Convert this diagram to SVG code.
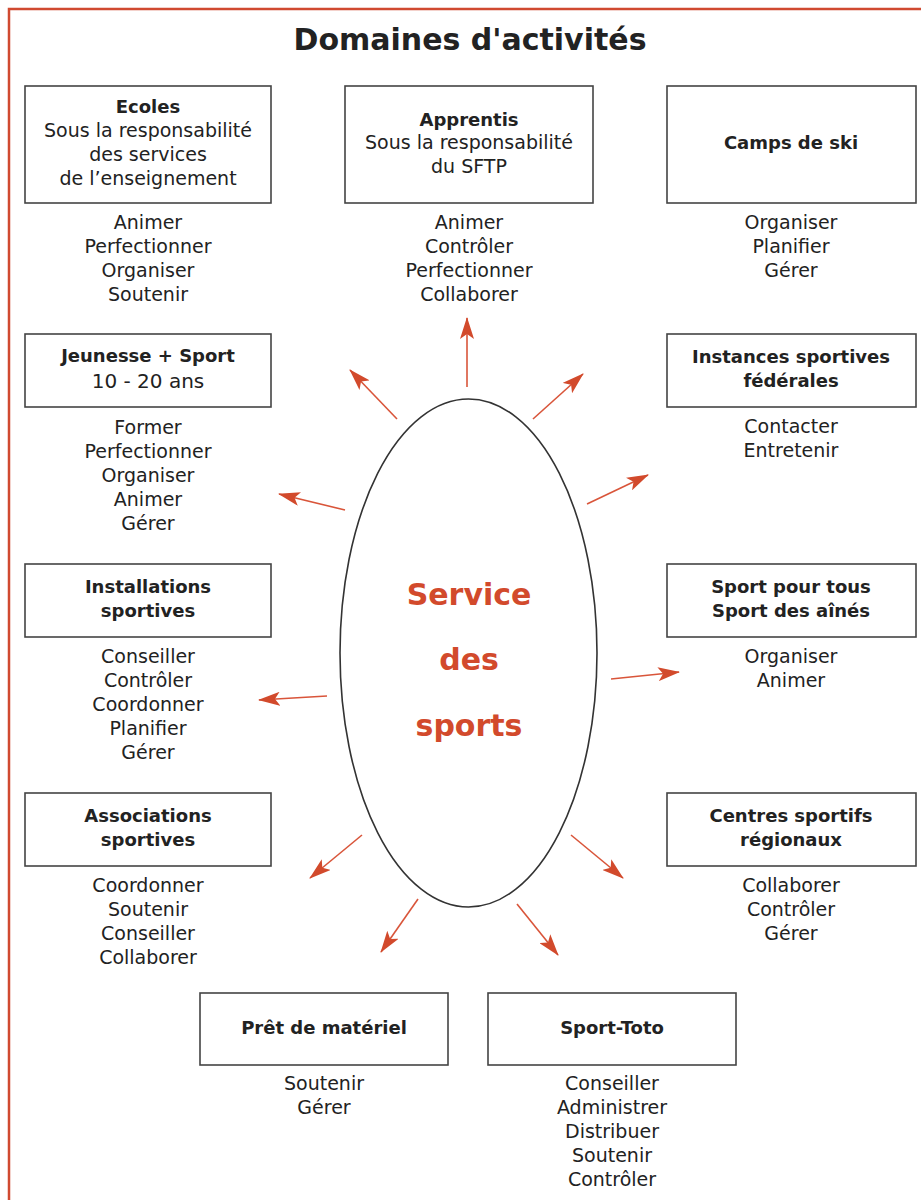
<svg xmlns="http://www.w3.org/2000/svg" width="921" height="1200" viewBox="0 0 921 1200">
<defs>
<style>
.box{fill:#fff;stroke:#444;stroke-width:1.6}
.t{font-family:"DejaVu Sans","Liberation Sans",Arial,sans-serif;text-anchor:middle;fill:#222}
.b{font-weight:bold;font-size:18px}
.r{font-size:19px}
.v{font-size:19px}
.red{fill:#d24a2c;font-weight:bold;font-size:30px}
.arr{stroke:#d9553a;stroke-width:1.6;fill:none;marker-end:url(#ah)}
</style>
<marker id="ah" viewBox="0 0 22 14" refX="21" refY="7" markerWidth="22" markerHeight="14" markerUnits="userSpaceOnUse" orient="auto">
<path d="M0,0 L22,7 L0,14 L5,7 z" fill="#d24a2c"/>
</marker>
</defs>
<rect width="921" height="1200" fill="#fff"/>
<path d="M9,1200 L9,9 L921,9" fill="none" stroke="#d04a30" stroke-width="2.5"/>
<text class="t" x="470" y="50" style="font-weight:bold;font-size:30px">Domaines d'activités</text>

<g id="centre">
<ellipse cx="468.5" cy="653" rx="128.5" ry="254" fill="#fff" stroke="#333" stroke-width="1.6"/>
<text class="t red" x="469" y="605">Service</text>
<text class="t red" x="469" y="670">des</text>
<text class="t red" x="469" y="736">sports</text>
</g>

<g id="ecoles">
<rect class="box" x="25" y="86" width="246" height="117"/>
<text class="t b" x="148" y="113">Ecoles</text>
<text class="t r" x="148" y="137">Sous la responsabilité</text>
<text class="t r" x="148" y="161">des services</text>
<text class="t r" x="148" y="185">de l’enseignement</text>
<text class="t v" x="148" y="229">Animer</text>
<text class="t v" x="148" y="253">Perfectionner</text>
<text class="t v" x="148" y="277">Organiser</text>
<text class="t v" x="148" y="301">Soutenir</text>
</g>

<g id="apprentis">
<rect class="box" x="345" y="86" width="248" height="117"/>
<text class="t b" x="469" y="126">Apprentis</text>
<text class="t r" x="469" y="149">Sous la responsabilité</text>
<text class="t r" x="469" y="173">du SFTP</text>
<text class="t v" x="469" y="229">Animer</text>
<text class="t v" x="469" y="253">Contrôler</text>
<text class="t v" x="469" y="277">Perfectionner</text>
<text class="t v" x="469" y="301">Collaborer</text>
</g>

<g id="camps">
<rect class="box" x="667" y="86" width="249" height="117"/>
<text class="t b" x="791" y="149">Camps de ski</text>
<text class="t v" x="791" y="229">Organiser</text>
<text class="t v" x="791" y="253">Planifier</text>
<text class="t v" x="791" y="277">Gérer</text>
</g>

<g id="jeunesse">
<rect class="box" x="25" y="334" width="246" height="73"/>
<text class="t b" x="148" y="362">Jeunesse + Sport</text>
<text class="t r" x="148" y="388" style="font-size:20px">10 - 20 ans</text>
<text class="t v" x="148" y="434">Former</text>
<text class="t v" x="148" y="458">Perfectionner</text>
<text class="t v" x="148" y="482">Organiser</text>
<text class="t v" x="148" y="506">Animer</text>
<text class="t v" x="148" y="530">Gérer</text>
</g>

<g id="instances">
<rect class="box" x="667" y="334" width="249" height="73"/>
<text class="t b" x="791" y="363">Instances sportives</text>
<text class="t b" x="791" y="387">fédérales</text>
<text class="t v" x="791" y="433">Contacter</text>
<text class="t v" x="791" y="457">Entretenir</text>
</g>

<g id="installations">
<rect class="box" x="25" y="564" width="246" height="73"/>
<text class="t b" x="148" y="593">Installations</text>
<text class="t b" x="148" y="617">sportives</text>
<text class="t v" x="148" y="663">Conseiller</text>
<text class="t v" x="148" y="687">Contrôler</text>
<text class="t v" x="148" y="711">Coordonner</text>
<text class="t v" x="148" y="735">Planifier</text>
<text class="t v" x="148" y="759">Gérer</text>
</g>

<g id="sportpourtous">
<rect class="box" x="667" y="564" width="249" height="73"/>
<text class="t b" x="791" y="593">Sport pour tous</text>
<text class="t b" x="791" y="617">Sport des aînés</text>
<text class="t v" x="791" y="663">Organiser</text>
<text class="t v" x="791" y="687">Animer</text>
</g>

<g id="associations">
<rect class="box" x="25" y="793" width="246" height="73"/>
<text class="t b" x="148" y="822">Associations</text>
<text class="t b" x="148" y="846">sportives</text>
<text class="t v" x="148" y="892">Coordonner</text>
<text class="t v" x="148" y="916">Soutenir</text>
<text class="t v" x="148" y="940">Conseiller</text>
<text class="t v" x="148" y="964">Collaborer</text>
</g>

<g id="centres">
<rect class="box" x="667" y="793" width="249" height="73"/>
<text class="t b" x="791" y="822">Centres sportifs</text>
<text class="t b" x="791" y="846">régionaux</text>
<text class="t v" x="791" y="892">Collaborer</text>
<text class="t v" x="791" y="916">Contrôler</text>
<text class="t v" x="791" y="940">Gérer</text>
</g>

<g id="pret">
<rect class="box" x="200" y="993" width="248" height="72"/>
<text class="t b" x="324" y="1034">Prêt de matériel</text>
<text class="t v" x="324" y="1090">Soutenir</text>
<text class="t v" x="324" y="1114">Gérer</text>
</g>

<g id="sporttoto">
<rect class="box" x="488" y="993" width="248" height="72"/>
<text class="t b" x="612" y="1034">Sport-Toto</text>
<text class="t v" x="612" y="1090">Conseiller</text>
<text class="t v" x="612" y="1114">Administrer</text>
<text class="t v" x="612" y="1138">Distribuer</text>
<text class="t v" x="612" y="1162">Soutenir</text>
<text class="t v" x="612" y="1186">Contrôler</text>
</g>

<g id="connectors">
<line class="arr" x1="467" y1="387" x2="467" y2="318"/>
<line class="arr" x1="397" y1="419" x2="350" y2="370"/>
<line class="arr" x1="533" y1="419" x2="583" y2="374"/>
<line class="arr" x1="345" y1="510" x2="279" y2="494"/>
<line class="arr" x1="587" y1="504" x2="648" y2="475"/>
<line class="arr" x1="327" y1="696" x2="259" y2="700"/>
<line class="arr" x1="611" y1="679" x2="679" y2="672"/>
<line class="arr" x1="362" y1="835" x2="310" y2="878"/>
<line class="arr" x1="571" y1="835" x2="623" y2="878"/>
<line class="arr" x1="418" y1="899" x2="381" y2="952"/>
<line class="arr" x1="517" y1="904" x2="558" y2="955"/>
</g>
</svg>
